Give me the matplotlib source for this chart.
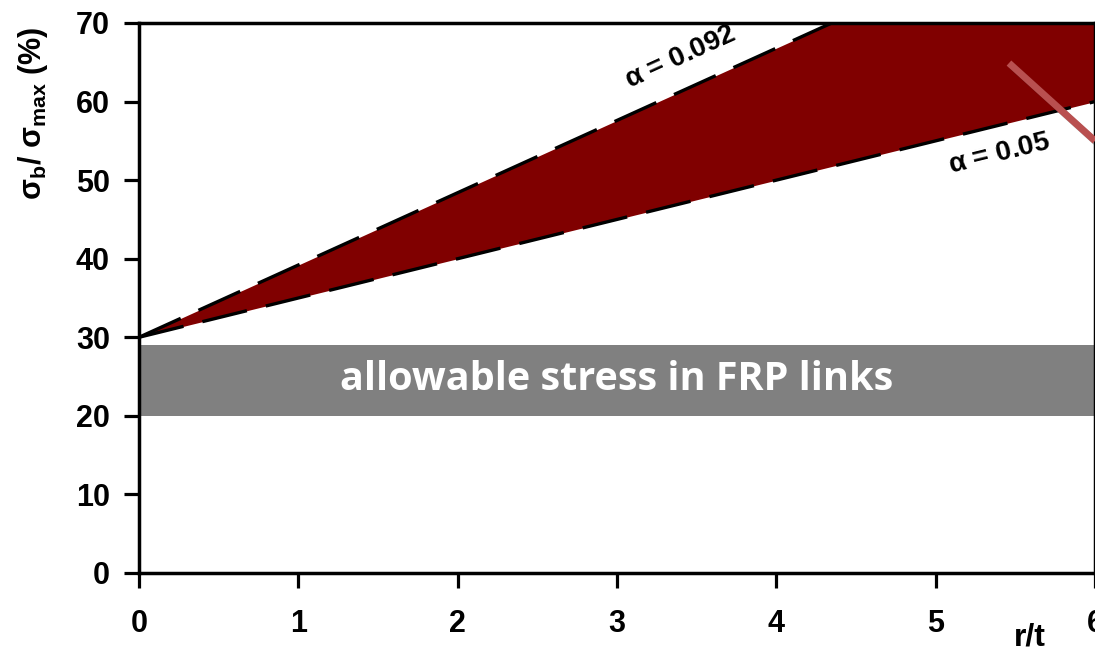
import matplotlib
matplotlib.use('Agg')
import matplotlib.pyplot as plt
import matplotlib.patheffects as pe

plt.rcParams['font.family'] = ['Liberation Sans', 'DejaVu Sans']
plt.rcParams['font.weight'] = 'bold'
plt.rcParams['mathtext.fontset'] = 'custom'
plt.rcParams['mathtext.rm'] = 'Liberation Sans:bold'
plt.rcParams['mathtext.it'] = 'Liberation Sans:bold'
plt.rcParams['mathtext.bf'] = 'Liberation Sans:bold'
plt.rcParams['mathtext.default'] = 'bf'
plt.rcParams['lines.scale_dashes'] = False

# data
r_t = [0, 6]
upper = [30, 85.2]     # alpha = 0.092
lower = [30, 60]       # alpha = 0.05
band = (20, 29)        # allowable stress in FRP links
arrow_x = [5.46, 6.0]
arrow_y = [64.9, 55.0]

fig = plt.figure(figsize=(10.95, 6.56), dpi=100)
ax = fig.add_axes([139/1095, 83/656, 956/1095, 550/656])

ax.fill_between(r_t, lower, upper, color='#800000', lw=0, zorder=1)
ax.axhspan(band[0], band[1], color='#808080', lw=0, zorder=1)

for y in (upper, lower):
    ax.plot(r_t, y, color='black', lw=2.4, dashes=(33, 14), zorder=3)

ax.plot(arrow_x, arrow_y, color='#b95050', lw=5, solid_capstyle='butt', zorder=4,
        path_effects=[pe.SimpleLineShadow(offset=(2, -2), alpha=0.3), pe.Normal()])

ax.text(3.4, 65.6, r'$\alpha$ = 0.092', rotation=24.4, ha='center', va='center',
        fontsize=20, fontweight='bold', rotation_mode='anchor')
ax.text(5.4, 53.3, r'$\alpha$ = 0.05', rotation=13.8, ha='center', va='center',
        fontsize=20, fontweight='bold', rotation_mode='anchor')
ax.text(3.0, 24.6, 'allowable stress in FRP links', ha='center', va='center',
        color='white', fontsize=28.5, fontweight='bold', family='Open Sans', zorder=5)

ax.set_xlim(0, 6)
ax.set_ylim(0, 70)
ax.set_xticks(range(0, 7))
ax.set_yticks(range(0, 71, 10))
ax.tick_params(direction='out', length=11, width=2.3, labelsize=22)
ax.tick_params(axis='x', pad=15)
ax.tick_params(axis='y', pad=10)
for s in ax.spines.values():
    s.set_linewidth(2.5)

ax.set_ylabel(r'$\sigma_b$/ $\sigma_{max}$ (%)', fontsize=22, fontweight='bold')
ax.yaxis.set_label_coords(-0.093, 0.835)
ax.set_xlabel('r/t', fontsize=23, fontweight='bold')
ax.xaxis.set_label_coords(0.932, -0.09)

fig.savefig('out.png', dpi=100)
